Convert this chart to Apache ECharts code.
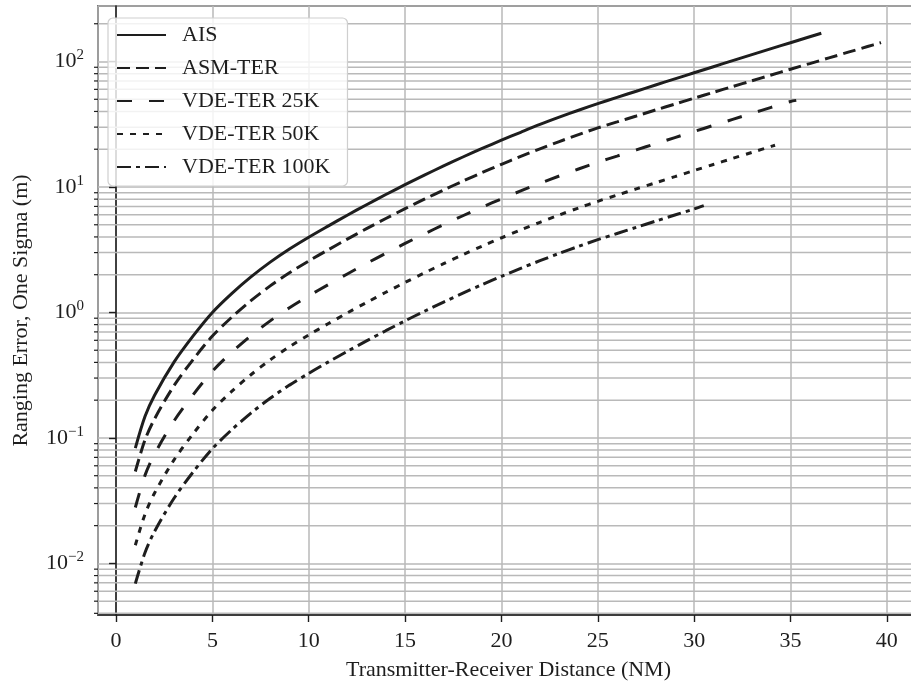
<!DOCTYPE html>
<html>
<head>
<meta charset="utf-8">
<script src="https://cdn.jsdelivr.net/npm/echarts@6/dist/echarts.min.js"></script>
<style>html,body{margin:0;padding:0;background:#fff;overflow:hidden;}#chart{width:925px;height:686px;}</style>
</head>
<body>
<div id="chart"></div>
<script>
// ---- data ----
const seriesNames = ['AIS', 'ASM-TER', 'VDE-TER 25K', 'VDE-TER 50K', 'VDE-TER 100K'];

const distAIS = [1, 1.5, 2, 3, 4, 5, 6, 7, 8, 9, 10, 11, 12, 13, 14, 15, 16, 17, 18, 19, 20, 21, 22, 23, 24, 25, 26, 27, 28, 29, 30, 31, 32, 33, 34, 35, 36, 36.6];
const errAIS  = [0.083, 0.148, 0.219, 0.40, 0.65, 1.0, 1.413, 1.919, 2.518, 3.206, 3.98, 4.88, 5.96, 7.22, 8.71, 10.43, 12.43, 14.72, 17.34, 20.3, 23.6, 27.3, 31.5, 36.0, 40.9, 46.2, 51.8, 58.0, 65.0, 72.7, 81.3, 90.9, 101.6, 113.4, 126.6, 141.2, 157.5, 168.1];

const distASM = [1, 1.5, 2, 3, 4, 5, 6, 7, 8, 9, 10, 11, 12, 13, 14, 15, 16, 17, 18, 19, 20, 21, 22, 23, 24, 25, 26, 27, 28, 29, 30, 31, 32, 33, 34, 35, 36, 37, 38, 39, 39.7];
const errASM  = [0.054, 0.0962, 0.142, 0.26, 0.422, 0.648, 0.915, 1.242, 1.629, 2.073, 2.572, 3.153, 3.843, 4.656, 5.61, 6.716, 8.0, 9.47, 11.14, 13.03, 15.16, 17.53, 20.15, 23.03, 26.17, 29.57, 33.0, 36.8, 41.1, 45.8, 51.0, 56.8, 63.2, 70.2, 78.1, 86.8, 96.3, 106.9, 118.7, 131.6, 141.5];

const dist25K = [1, 1.5, 2, 3, 4, 5, 6, 7, 8, 9, 10, 11, 12, 13, 14, 15, 16, 17, 18, 19, 20, 21, 22, 23, 24, 25, 26, 27, 28, 29, 30, 31, 32, 33, 34, 35, 35.3];
const err25K  = [0.0279, 0.0503, 0.0745, 0.136, 0.221, 0.340, 0.481, 0.653, 0.857, 1.091, 1.355, 1.662, 2.027, 2.459, 2.963, 3.55, 4.23, 5.01, 5.90, 6.91, 8.04, 9.30, 10.71, 12.24, 13.92, 15.74, 17.64, 19.76, 22.13, 24.76, 27.69, 30.95, 34.58, 38.61, 43.1, 48.0, 49.0];

const dist50K = [1, 1.5, 2, 3, 4, 5, 6, 7, 8, 9, 10, 11, 12, 13, 14, 15, 16, 17, 18, 19, 20, 21, 22, 23, 24, 25, 26, 27, 28, 29, 30, 31, 32, 33, 34, 34.2];
const err50K  = [0.01396, 0.0246, 0.0364, 0.0665, 0.108, 0.166, 0.235, 0.319, 0.419, 0.533, 0.662, 0.812, 0.991, 1.201, 1.448, 1.735, 2.067, 2.448, 2.884, 3.377, 3.929, 4.548, 5.231, 5.983, 6.803, 7.689, 8.62, 9.656, 10.81, 12.09, 13.53, 15.12, 16.9, 18.87, 21.06, 21.52];

const dist100K = [1, 1.5, 2, 3, 4, 5, 6, 7, 8, 9, 10, 11, 12, 13, 14, 15, 16, 17, 18, 19, 20, 21, 22, 23, 24, 25, 26, 27, 28, 29, 30, 30.5];
const err100K  = [0.0069, 0.01216, 0.018, 0.0329, 0.0535, 0.0822, 0.1161, 0.1578, 0.207, 0.2636, 0.3273, 0.4016, 0.4896, 0.5937, 0.7155, 0.8576, 1.022, 1.21, 1.425, 1.669, 1.943, 2.247, 2.586, 2.958, 3.363, 3.802, 4.261, 4.773, 5.345, 5.98, 6.689, 7.1];

// axis extents and ticks
const xMin = -0.937, xMax = 41.67;
const yMin = 0.00388, yMax = 277;
const xTickLabels = [0, 5, 10, 15, 20, 25, 30, 35, 40];
const yMinorTicks = [0.004, 0.005, 0.006, 0.007, 0.008, 0.009,
  0.02, 0.03, 0.04, 0.05, 0.06, 0.07, 0.08, 0.09,
  0.2, 0.3, 0.4, 0.5, 0.6, 0.7, 0.8, 0.9,
  2, 3, 4, 5, 6, 7, 8, 9,
  20, 30, 40, 50, 60, 70, 80, 90,
  200];

// ---- styles ----
const FONT = 'Liberation Serif';
const INK = '#1e1e1e';
const GRID = '#b9b9b9';
const dashStyles = {
  'AIS': 'solid',
  'ASM-TER': [13, 6],
  'VDE-TER 25K': [15, 17],
  'VDE-TER 50K': [6, 7],
  'VDE-TER 100K': [14, 5, 4, 5]
};

const pairs = (xs, ys) => xs.map((x, i) => [x, ys[i]]);
const seriesData = {
  'AIS': pairs(distAIS, errAIS),
  'ASM-TER': pairs(distASM, errASM),
  'VDE-TER 25K': pairs(dist25K, err25K),
  'VDE-TER 50K': pairs(dist50K, err50K),
  'VDE-TER 100K': pairs(dist100K, err100K)
};

const chart = echarts.init(document.getElementById('chart'), null, {renderer: 'canvas'});

const supMap = v => {
  const e = Math.round(Math.log10(v));
  if (Math.abs(Math.log10(v) - e) > 1e-6) return '';
  return '{b|10}{s|' + (e < 0 ? '\u2212' + (-e) : String(e)) + '}';
};

const lineSeries = seriesNames.map(name => ({
  name: name,
  type: 'line',
  data: seriesData[name],
  showSymbol: false,
  symbol: 'none',
  smooth: 0.3,
  z: 5,
  lineStyle: {color: INK, width: 3, type: dashStyles[name], cap: 'butt'},
  itemStyle: {color: INK}
}));

// minor gridlines and minor ticks for the log axis
const minorSeries = {
  name: 'minor',
  type: 'custom',
  silent: true,
  clip: false,
  z: 1,
  data: yMinorTicks.map(v => [v]),
  encode: {y: 0},
  renderItem: function (params, api) {
    const v = api.value(0);
    const p0 = api.coord([xMin, v]);
    const p1 = api.coord([xMax, v]);
    return {
      type: 'group',
      children: [
        {type: 'line', shape: {x1: p0[0], y1: p0[1], x2: p1[0], y2: p1[1]},
         style: {stroke: GRID, lineWidth: 1.5}},
        {type: 'line', shape: {x1: p0[0] - 4, y1: p0[1], x2: p0[0], y2: p0[1]},
         style: {stroke: INK, lineWidth: 1.2}}
      ]
    };
  }
};

const option = {
  animation: false,
  backgroundColor: '#fff',
  grid: {left: 98, top: 6, right: 6, height: 614, show: true, borderColor: INK, borderWidth: 1.6, backgroundColor: 'transparent'},
  legend: {
    data: seriesNames,
    orient: 'vertical',
    left: 108, top: 18,
    itemWidth: 49, itemHeight: 22, itemGap: 11,
    padding: [6, 17, 8, 8],
    backgroundColor: 'rgba(255,255,255,0.82)',
    borderColor: '#cfcfcf', borderWidth: 1.2, borderRadius: 5,
    itemStyle: {color: 'rgba(0,0,0,0)', borderColor: 'rgba(0,0,0,0)', borderWidth: 0, opacity: 0},
    textStyle: {fontFamily: FONT, fontSize: 22, color: INK, lineHeight: 22, padding: [0, 0, 0, 11]},
    inactiveColor: INK
  },
  xAxis: {
    type: 'value', min: xMin, max: xMax, splitNumber: 8,
    name: 'Transmitter-Receiver Distance (NM)', nameLocation: 'middle', nameGap: 44,
    nameTextStyle: {fontFamily: FONT, fontSize: 22, color: INK},
    axisLine: {show: true, lineStyle: {color: INK, width: 1.6}},
    axisTick: {show: true, length: 7, lineStyle: {color: INK, width: 1.4}},
    axisLabel: {fontFamily: FONT, fontSize: 22, color: INK, margin: 15, showMinLabel: false, showMaxLabel: false,
      formatter: v => (xTickLabels.indexOf(Math.round(v * 1000) / 1000) >= 0 ? String(v) : '')},
    splitLine: {show: true, lineStyle: {color: GRID, width: 1.5}}
  },
  yAxis: {
    type: 'log', logBase: 10, min: yMin, max: yMax,
    name: 'Ranging Error, One Sigma (m)', nameLocation: 'middle', nameGap: 66,
    nameTextStyle: {fontFamily: FONT, fontSize: 22, color: INK},
    axisLine: {show: true, lineStyle: {color: INK, width: 1.6}},
    axisTick: {show: true, length: 7, lineStyle: {color: INK, width: 1.4}},
    axisLabel: {
      margin: 14, showMinLabel: false, showMaxLabel: false,
      formatter: supMap,
      rich: {
        b: {fontFamily: FONT, fontSize: 22, color: INK},
        s: {fontFamily: FONT, fontSize: 15, color: INK, padding: [0, 0, 12, 0]}
      }
    },
    splitLine: {show: true, lineStyle: {color: GRID, width: 1.5}}
  },
  series: [minorSeries].concat(lineSeries)
};

chart.setOption(option);
</script>
</body>
</html>
